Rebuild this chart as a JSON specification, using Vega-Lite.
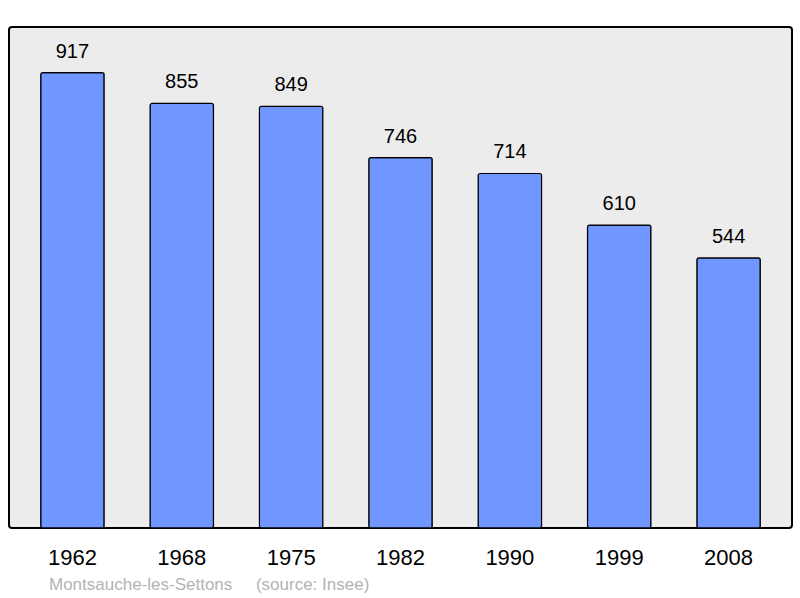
{
  "$schema": "https://vega.github.io/schema/vega-lite/v6.json",
  "width": 783,
  "height": 501,
  "autosize": {"type": "none"},
  "padding": {"left": 9, "top": 27, "right": 8, "bottom": 70},
  "background": "#ffffff",
  "config": {
    "font": "Liberation Sans",
    "view": {"fill": "#ececec", "stroke": "#000000", "strokeWidth": 2, "cornerRadius": 3}
  },
  "title": {
    "text": "Montsauche-les-Settons\u00a0\u00a0\u00a0\u00a0\u00a0(source: Insee)",
    "orient": "bottom",
    "anchor": "start",
    "frame": "group",
    "dx": 40,
    "offset": 9,
    "fontSize": 17,
    "fontWeight": "normal",
    "color": "#b3b3b3",
    "font": "Liberation Sans"
  },
  "data": {
    "values": [
      {"year": "1962", "pop": 917},
      {"year": "1968", "pop": 855},
      {"year": "1975", "pop": 849},
      {"year": "1982", "pop": 746},
      {"year": "1990", "pop": 714},
      {"year": "1999", "pop": 610},
      {"year": "2008", "pop": 544}
    ]
  },
  "encoding": {
    "x": {
      "field": "year",
      "type": "ordinal",
      "sort": null,
      "scale": {"paddingInner": 0.42, "paddingOuter": 0.29},
      "axis": {
        "title": null,
        "domain": false,
        "ticks": false,
        "labelAngle": 0,
        "labelFontSize": 22,
        "labelColor": "#000000",
        "labelPadding": 19,
        "labelFont": "Liberation Sans"
      }
    },
    "y": {
      "field": "pop",
      "type": "quantitative",
      "scale": {"domain": [0, 1009], "nice": false, "zero": true},
      "axis": null
    }
  },
  "layer": [
    {
      "mark": {"type": "bar", "fill": "#7096ff", "stroke": "#000000", "strokeWidth": 1.2, "cornerRadius": 2}
    },
    {
      "mark": {"type": "text", "baseline": "alphabetic", "dy": -15, "fontSize": 20, "color": "#000000", "font": "Liberation Sans"},
      "encoding": {"text": {"field": "pop", "type": "quantitative"}}
    }
  ]
}
